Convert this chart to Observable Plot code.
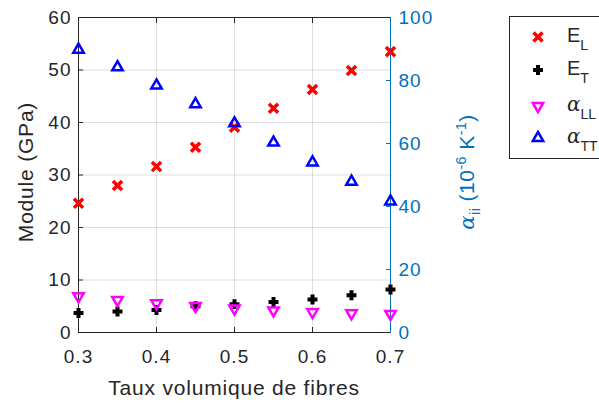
<!DOCTYPE html>
<html><head><meta charset="utf-8">
<script src="https://cdn.jsdelivr.net/npm/d3@7"></script>
<script src="https://cdn.jsdelivr.net/npm/@observablehq/plot@0.6"></script>
<style>
body{margin:0;background:#fff;font-family:"Liberation Sans",Arial,sans-serif;}
#wrap{position:relative;width:599px;height:403px;overflow:hidden}
#legend{position:absolute;left:509px;top:16px;width:120px;height:141px;border:1px solid #262626;background:#fff}
</style></head><body><div id="wrap"></div>
<script>
const fibres = [0.3, 0.35, 0.4, 0.45, 0.5, 0.55, 0.6, 0.65, 0.7];
const EL  = [24.6, 28.0, 31.6, 35.3, 39.1, 42.7, 46.3, 49.9, 53.5];   // GPa, left axis
const ET  = [3.7, 4.0, 4.3, 5.0, 5.4, 5.8, 6.3, 7.1, 8.2];            // GPa, left axis
const aLL = [11.5, 10.3, 9.3, 8.4, 7.6, 7.0, 6.5, 6.1, 5.9];          // 1e-6/K, right axis
const aTT = [89.8, 84.2, 78.4, 72.5, 66.4, 60.3, 54.0, 47.9, 41.6];   // 1e-6/K, right axis
const xTicks = [0.3, 0.4, 0.5, 0.6, 0.7];
const yTicks = [0, 10, 20, 30, 40, 50, 60];
const y2Ticks = [0, 20, 40, 60, 80, 100];
const yMax = 60, y2Max = 100;
const k = yMax / y2Max;

const axisCol = "#262626", blue = "#0072BD";
const rows = (vals, s) => fibres.map((f, i) => ({x: f, y: vals[i] * s}));

const plot = Plot.plot({
  width: 599, height: 403,
  marginTop: 17, marginBottom: 71, marginLeft: 78, marginRight: 209,
  style: {fontFamily: '"Liberation Sans", Arial, sans-serif', fontSize: "19px", letterSpacing: "1px", background: "#fff", overflow: "visible"},
  x: {domain: [0.3, 0.7], label: null},
  y: {domain: [0, yMax], label: null},
  marks: [
    Plot.gridX(xTicks.slice(1, -1), {stroke: axisCol, strokeOpacity: 0.15}),
    Plot.gridY(yTicks.slice(1, -1), {stroke: axisCol, strokeOpacity: 0.15}),
    Plot.axisX(xTicks, {anchor: "bottom", tickSize: -5, tickPadding: 22, tickFormat: d3.format(".1f"), color: axisCol, label: null}),
    Plot.axisX(xTicks, {anchor: "top", tickSize: -5, tickFormat: () => "", color: axisCol, label: null}),
    Plot.axisY(yTicks, {anchor: "left", tickSize: -5, tickPadding: 12, color: axisCol, label: null}),
    Plot.axisY(y2Ticks.map(v => v * k), {anchor: "right", tickSize: -5, tickPadding: 13, tickFormat: d => Math.round(d / k), color: blue, label: null}),
    Plot.ruleX([0.3], {stroke: axisCol}),
    Plot.ruleY([0], {stroke: axisCol}),
    Plot.ruleY([yMax], {stroke: axisCol}),
    Plot.ruleX([0.7], {stroke: blue}),
    Plot.dot(rows(EL, 1), {x: "x", y: "y", symbol: "times", r: 4.2, stroke: "#ff0000", strokeWidth: 3.5}),
    Plot.dot(rows(ET, 1), {x: "x", y: "y", symbol: "plus", r: 3.3, stroke: "#000", strokeWidth: 4}),
    Plot.dot(rows(aLL, k), {x: "x", y: "y", symbol: "triangle2", rotate: 180, r: 5, stroke: "#ff00ff", strokeWidth: 2.5}),
    Plot.dot(rows(aTT, k), {x: "x", y: "y", symbol: "triangle2", r: 5, stroke: "#0000ff", strokeWidth: 2.5})
  ]
});
const wrap = document.getElementById("wrap");
wrap.appendChild(plot);

const svg = d3.select(plot);
// y-left label
svg.append("text").attr("transform", "translate(25,172) rotate(-90)")
  .attr("text-anchor", "middle").attr("dominant-baseline", "central")
  .attr("fill", axisCol).style("font-size", "21px").style("letter-spacing", "0.8px").text("Module (GPa)");
// x label
svg.append("text").attr("x", 234).attr("y", 395)
  .attr("text-anchor", "middle").attr("fill", axisCol).style("font-size", "21px").style("letter-spacing", "0.8px")
  .text("Taux volumique de fibres");
// right label
const r = svg.append("text").attr("transform", "translate(474,172) rotate(-90)")
  .attr("text-anchor", "middle").attr("fill", blue).style("font-size", "21px").style("letter-spacing", "0.5px");
r.append("tspan").style("font-family", '"DejaVu Serif", serif').style("font-style", "italic").text("α");
r.append("tspan").attr("dy", 6).style("font-size", "14px").text("ii");
r.append("tspan").attr("dy", -6).text(" (10");
r.append("tspan").attr("dy", -8).style("font-size", "14px").text("-6");
r.append("tspan").attr("dy", 8).text(" K");
r.append("tspan").attr("dy", -8).style("font-size", "14px").text("-1");
r.append("tspan").attr("dy", 8).text(")");

// legend
const leg = d3.select(wrap).append("div").attr("id", "legend");
const ls = leg.append("svg").attr("width", 120).attr("height", 141).style("font-family", '"Liberation Sans", Arial, sans-serif');
const entries = [
  {sym: d3.symbolTimes, size: 55, stroke: "#ff0000", sw: 3.5, rot: 0, main: "E", sub: "L", greek: false},
  {sym: d3.symbolPlus, size: 34, stroke: "#000", sw: 4, rot: 0, main: "E", sub: "T", greek: false},
  {sym: d3.symbolTriangle2, size: 78, stroke: "#ff00ff", sw: 2.5, rot: 180, main: "α", sub: "LL", greek: true},
  {sym: d3.symbolTriangle2, size: 78, stroke: "#0000ff", sw: 2.5, rot: 0, main: "α", sub: "TT", greek: true}
];
const ys = [20, 53, 89, 121];
entries.forEach((e, i) => {
  ls.append("path").attr("d", d3.symbol(e.sym, e.size)())
    .attr("transform", `translate(28,${ys[i]}) rotate(${e.rot})`)
    .attr("fill", "none").attr("stroke", e.stroke).attr("stroke-width", e.sw);
  const t = ls.append("text").attr("x", 57).attr("y", ys[i] + 5).attr("fill", axisCol).style("font-size", "20px");
  const m = t.append("tspan").text(e.main);
  if (e.greek) m.style("font-family", '"DejaVu Serif", serif').style("font-style", "italic");
  t.append("tspan").attr("dy", 8).style("font-size", "14px").text(e.sub);
});
</script>
</body></html>
